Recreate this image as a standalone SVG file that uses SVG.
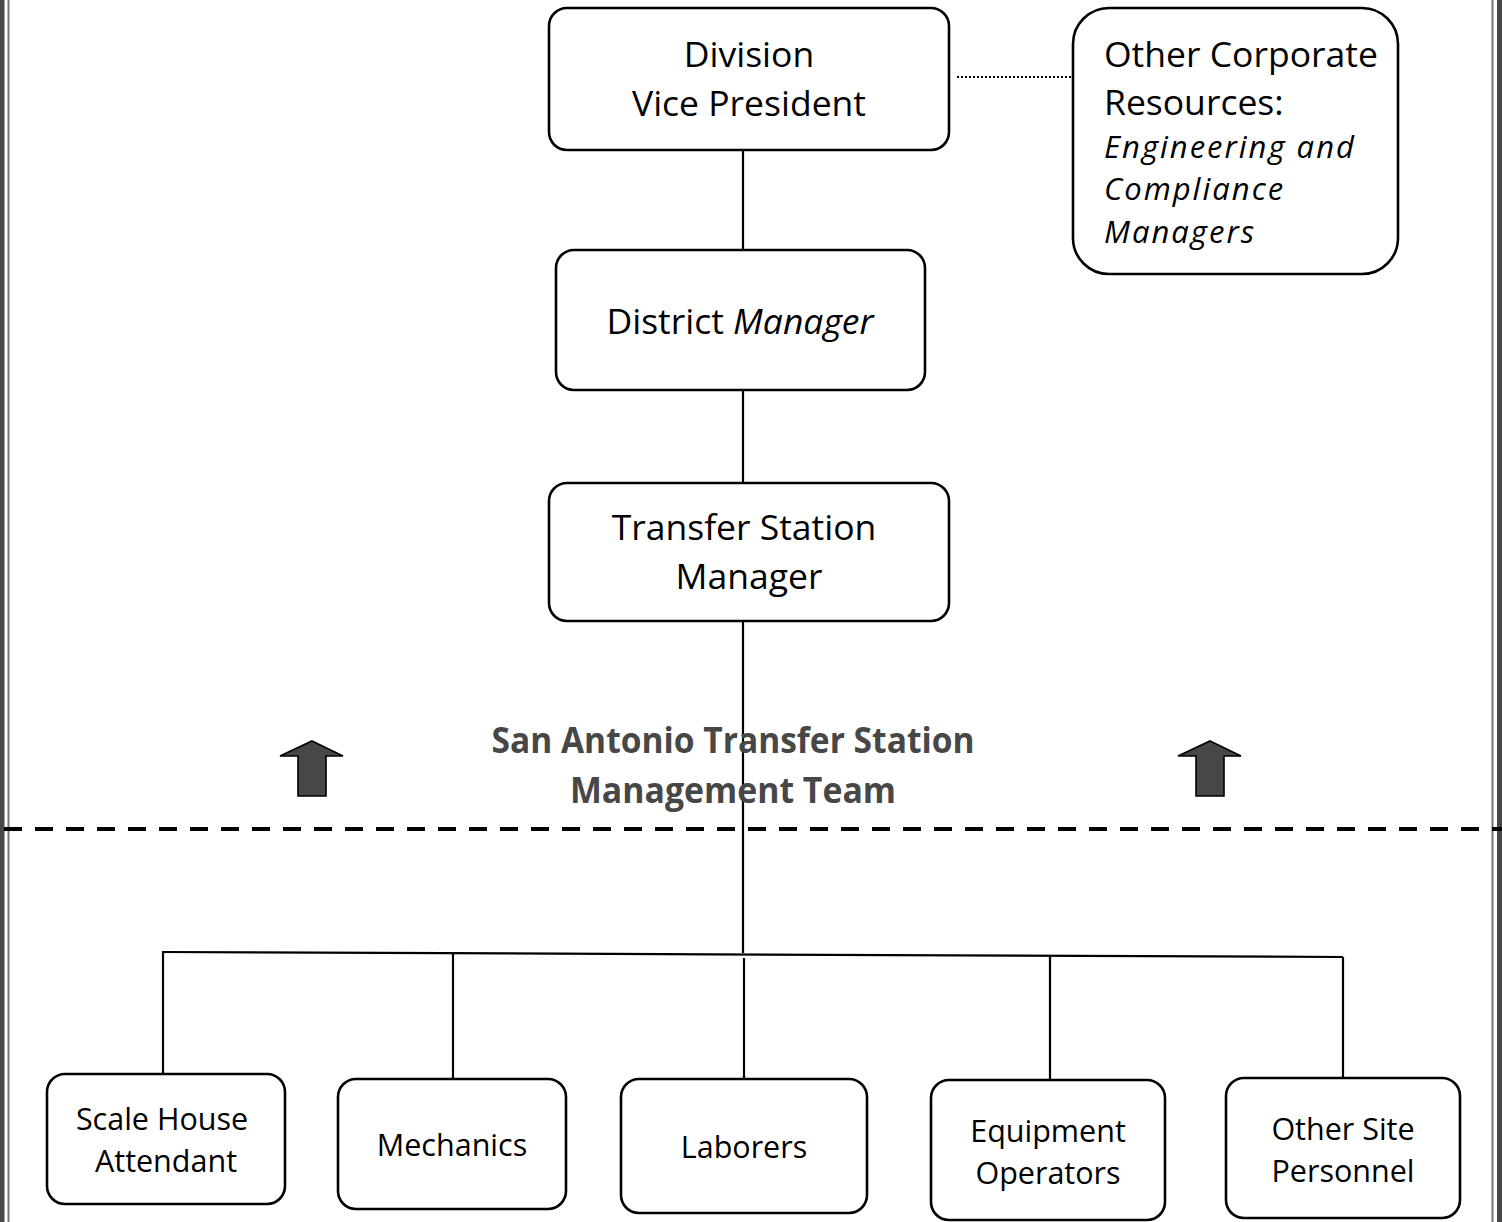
<svg xmlns="http://www.w3.org/2000/svg" width="1502" height="1222" viewBox="0 0 1502 1222">
<style>
.box{fill:#fff;stroke:#000;stroke-width:2.6}
.t{font-family:"Open Sans","Noto Sans",sans-serif;font-size:35.5px;fill:#000;text-anchor:middle}
.tl{font-family:"Open Sans","Noto Sans",sans-serif;font-size:35.5px;fill:#000}
.it{font-family:"Open Sans","Noto Sans",sans-serif;font-style:italic;font-size:31px;letter-spacing:2px;fill:#000}
.b{font-family:"Open Sans","Noto Sans",sans-serif;font-size:30.5px;fill:#000;text-anchor:middle}
.title{font-family:"Open Sans","Noto Sans",sans-serif;font-weight:bold;font-size:36px;fill:#474747;text-anchor:middle}
.ln{stroke:#000;stroke-width:2.2;fill:none}
.arr{fill:#474747;stroke:#000;stroke-width:1.6;stroke-linejoin:miter}
</style>
<rect width="1502" height="1222" fill="#fff"/>
<g id="border">
<rect x="0" y="0" width="4.5" height="1222" fill="#474747"/>
<line x1="8.5" y1="0" x2="8.5" y2="1222" stroke="#777" stroke-width="2"/>
<line x1="1492.5" y1="0" x2="1492.5" y2="1222" stroke="#777" stroke-width="2"/>
<rect x="1497" y="0" width="5" height="1222" fill="#474747"/>
</g>
<g id="divider">
<line x1="4" y1="829" x2="1502" y2="829" stroke="#000" stroke-width="4" stroke-dasharray="18 13"/>
</g>
<g id="connectors">
<line class="ln" x1="743" y1="150" x2="743" y2="250"/>
<line class="ln" x1="743" y1="390" x2="743" y2="483"/>
<line class="ln" x1="743" y1="621" x2="743" y2="953"/>
<line class="ln" x1="162" y1="952" x2="1343" y2="957"/>
<line class="ln" x1="163" y1="952" x2="163" y2="1075"/>
<line class="ln" x1="453" y1="953" x2="453" y2="1079"/>
<line class="ln" x1="744" y1="958" x2="744" y2="1080"/>
<line class="ln" x1="1050" y1="956" x2="1050" y2="1080"/>
<line class="ln" x1="1343" y1="957" x2="1343" y2="1078"/>
<line x1="957" y1="77" x2="1071" y2="77" stroke="#000" stroke-width="2" stroke-dasharray="2 2"/>
</g>
<g id="title">
<text class="title" x="733" y="753" textLength="483" lengthAdjust="spacingAndGlyphs">San Antonio Transfer Station</text>
<text class="title" x="733" y="803" textLength="326" lengthAdjust="spacingAndGlyphs">Management Team</text>
</g>
<g id="arrow-left">
<polygon class="arr" points="312,741 343,756 326,756 326,796 298,796 298,756 280,756"/>
</g>
<g id="arrow-right">
<polygon class="arr" points="1210,741 1241,756 1224,756 1224,796 1196,796 1196,756 1178,756"/>
</g>
<g id="division-vp">
<rect class="box" x="549" y="8" width="400" height="142" rx="18"/>
<text class="t" x="749" y="67">Division</text>
<text class="t" x="749" y="116">Vice President</text>
</g>
<g id="other-corporate">
<rect class="box" x="1073" y="8" width="325" height="266" rx="36"/>
<text class="tl" x="1104" y="67">Other Corporate</text>
<text class="tl" x="1104" y="115">Resources:</text>
<text class="it" x="1104" y="158">Engineering and</text>
<text class="it" x="1104" y="200">Compliance</text>
<text class="it" x="1104" y="243">Managers</text>
</g>
<g id="district-manager">
<rect class="box" x="556" y="250" width="369" height="140" rx="18"/>
<text class="t" x="740" y="334">District <tspan font-style="italic">Manager</tspan></text>
</g>
<g id="ts-manager">
<rect class="box" x="549" y="483" width="400" height="138" rx="18"/>
<text class="t" x="744" y="540">Transfer Station</text>
<text class="t" x="749" y="589">Manager</text>
</g>
<g id="scale-house">
<rect class="box" x="47" y="1074" width="238" height="130" rx="18"/>
<text class="b" x="162" y="1130">Scale House</text>
<text class="b" x="166" y="1172">Attendant</text>
</g>
<g id="mechanics">
<rect class="box" x="338" y="1079" width="228" height="130" rx="18"/>
<text class="b" x="452" y="1156">Mechanics</text>
</g>
<g id="laborers">
<rect class="box" x="621" y="1079" width="246" height="134" rx="18"/>
<text class="b" x="744" y="1158">Laborers</text>
</g>
<g id="equipment-operators">
<rect class="box" x="931" y="1080" width="234" height="140" rx="18"/>
<text class="b" x="1048" y="1142">Equipment</text>
<text class="b" x="1048" y="1184">Operators</text>
</g>
<g id="other-site">
<rect class="box" x="1226" y="1078" width="234" height="140" rx="18"/>
<text class="b" x="1343" y="1140">Other Site</text>
<text class="b" x="1343" y="1182">Personnel</text>
</g>
</svg>
